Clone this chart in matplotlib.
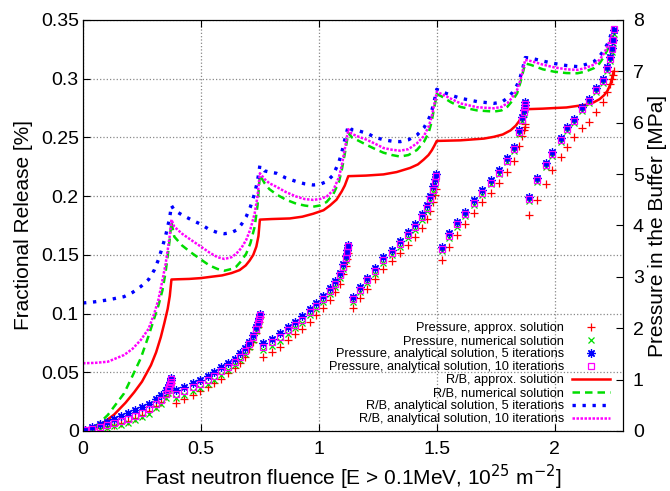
import matplotlib
matplotlib.use("Agg")
import matplotlib.pyplot as plt

plt.rcParams['font.family'] = ['Liberation Sans', 'DejaVu Sans']

# R/B curves (left axis, %)
rb_x = [0, 0.05, 0.105, 0.174, 0.21, 0.245, 0.278, 0.302, 0.32, 0.337, 0.35, 0.359, 0.367, 0.375,
        0.387, 0.42, 0.458, 0.50, 0.536, 0.57, 0.60, 0.63, 0.65, 0.672, 0.692, 0.71, 0.728, 0.74, 0.75,
        0.77, 0.79, 0.82, 0.86, 0.905, 0.94, 0.976, 1.004, 1.033, 1.061, 1.085, 1.097, 1.11, 1.125,
        1.14, 1.17, 1.203, 1.24, 1.274, 1.31, 1.345, 1.38, 1.416, 1.445, 1.465, 1.478, 1.487, 1.494, 1.5,
        1.52, 1.56, 1.6, 1.671, 1.742, 1.775, 1.799, 1.82, 1.841, 1.855, 1.865, 1.875,
        1.9, 1.95, 1.997, 2.05, 2.096, 2.13, 2.167, 2.19, 2.21, 2.225, 2.238, 2.25]

rb_num = [0, 0.003, 0.0136, 0.032, 0.047, 0.062, 0.081, 0.096, 0.107, 0.12, 0.135, 0.149, 0.162, 0.178,
          0.1655, 0.158, 0.152, 0.146, 0.141, 0.138, 0.1365, 0.138, 0.140, 0.145, 0.151, 0.160, 0.174, 0.192, 0.218,
          0.211, 0.206, 0.2015, 0.197, 0.1935, 0.192, 0.191, 0.192, 0.195, 0.2015, 0.212, 0.222, 0.236, 0.254,
          0.250, 0.247, 0.2436, 0.240, 0.237, 0.235, 0.2337, 0.235, 0.2393, 0.246, 0.2536, 0.263, 0.273, 0.280, 0.287,
          0.285, 0.280, 0.276, 0.273, 0.272, 0.273, 0.276, 0.281, 0.2876, 0.297, 0.305, 0.313,
          0.3117, 0.308, 0.306, 0.3048, 0.3046, 0.306, 0.309, 0.313, 0.319, 0.325, 0.333, 0.340]

rb_an5 = [0.109, 0.110, 0.1116, 0.1144, 0.118, 0.123, 0.129, 0.137, 0.146, 0.157, 0.166, 0.174, 0.181, 0.192,
          0.188, 0.184, 0.180, 0.176, 0.1715, 0.169, 0.168, 0.169, 0.171, 0.176, 0.1825, 0.191, 0.2025, 0.213, 0.226,
          0.2215, 0.2205, 0.2195, 0.2155, 0.2124, 0.2105, 0.2095, 0.210, 0.2124, 0.218, 0.229, 0.237, 0.248, 0.260,
          0.2565, 0.2555, 0.2536, 0.250, 0.248, 0.2468, 0.2464, 0.248, 0.252, 0.258, 0.265, 0.272, 0.279, 0.285, 0.291,
          0.289, 0.286, 0.2834, 0.2805, 0.279, 0.280, 0.2834, 0.288, 0.2947, 0.302, 0.309, 0.318,
          0.3175, 0.315, 0.313, 0.3112, 0.3103, 0.312, 0.3146, 0.319, 0.3245, 0.330, 0.337, 0.344]

rb_an10 = [0.0577, 0.058, 0.059, 0.0647, 0.070, 0.0775, 0.087, 0.100, 0.112, 0.1286, 0.142, 0.154, 0.165, 0.18,
           0.174, 0.168, 0.1627, 0.157, 0.152, 0.148, 0.1465, 0.148, 0.151, 0.156, 0.1627, 0.172, 0.1854, 0.200, 0.2195,
           0.2145, 0.211, 0.208, 0.2035, 0.1996, 0.1975, 0.1968, 0.1975, 0.1996, 0.205, 0.216, 0.226, 0.240, 0.257,
           0.253, 0.2505, 0.248, 0.2445, 0.241, 0.2395, 0.2387, 0.240, 0.245, 0.251, 0.259, 0.267, 0.276, 0.282, 0.289,
           0.287, 0.283, 0.279, 0.2757, 0.2748, 0.276, 0.279, 0.284, 0.2905, 0.299, 0.307, 0.316,
           0.315, 0.312, 0.3097, 0.308, 0.3075, 0.309, 0.312, 0.316, 0.3217, 0.328, 0.335, 0.342]

red_x = [0, 0.03, 0.08, 0.132, 0.18, 0.217, 0.25, 0.288, 0.31, 0.33, 0.345, 0.359, 0.368, 0.375,
         0.40, 0.45, 0.50, 0.55, 0.59, 0.63, 0.664, 0.69, 0.706, 0.722, 0.735, 0.744, 0.75,
         0.80, 0.877, 0.93, 0.976, 1.02, 1.047, 1.075, 1.097, 1.11, 1.125,
         1.2, 1.274, 1.33, 1.387, 1.42, 1.444, 1.465, 1.479, 1.49, 1.5,
         1.6, 1.70, 1.742, 1.78, 1.813, 1.835, 1.848, 1.862, 1.875,
         1.95, 1.997, 2.05, 2.096, 2.14, 2.167, 2.19, 2.21, 2.225, 2.238, 2.245, 2.25]
rb_approx = [0, 0.002, 0.006, 0.014, 0.024, 0.033, 0.042, 0.056, 0.067, 0.080, 0.092, 0.104, 0.115, 0.129,
             0.1292, 0.1295, 0.1302, 0.1315, 0.1325, 0.1345, 0.137, 0.141, 0.145, 0.150, 0.157, 0.166, 0.180,
             0.1805, 0.181, 0.1825, 0.185, 0.188, 0.192, 0.197, 0.204, 0.209, 0.217,
             0.2175, 0.2185, 0.2205, 0.224, 0.227, 0.231, 0.235, 0.239, 0.243, 0.247,
             0.2475, 0.249, 0.2505, 0.2525, 0.256, 0.26, 0.2635, 0.268, 0.274,
             0.2745, 0.275, 0.2755, 0.2768, 0.278, 0.280, 0.2825, 0.286, 0.290, 0.296, 0.302, 0.306]

# Pressure points (right axis, MPa)
p_x = [0.01, 0.04, 0.07, 0.10, 0.13, 0.16, 0.19, 0.22, 0.25, 0.28, 0.31, 0.33, 0.35, 0.36, 0.365, 0.37, 0.373, 0.375,
       0.394, 0.43, 0.465, 0.494, 0.529, 0.557, 0.586, 0.614, 0.643, 0.664, 0.685, 0.706, 0.72, 0.735, 0.742, 0.746, 0.749,
       0.765, 0.80, 0.834, 0.869, 0.90, 0.93, 0.962, 0.99, 1.018, 1.047, 1.068, 1.089, 1.104, 1.114, 1.12, 1.125,
       1.146, 1.174, 1.205, 1.238, 1.274, 1.309, 1.345, 1.38, 1.409, 1.437, 1.458, 1.472, 1.486, 1.494, 1.498,
       1.522, 1.55, 1.585, 1.621, 1.656, 1.692, 1.728, 1.763, 1.799, 1.827, 1.848, 1.862, 1.869, 1.873, 1.875,
       1.891, 1.926, 1.962, 1.99, 2.026, 2.054, 2.082, 2.118, 2.146, 2.174, 2.203, 2.224, 2.236, 2.243, 2.247, 2.25]

p_approx = [0.01, 0.03, 0.06, 0.09, 0.12, 0.16, 0.20, 0.25, 0.31, 0.38, 0.48, 0.56, 0.68, 0.77, 0.82, 0.89, 0.94, 0.99,
            0.55, 0.62, 0.70, 0.77, 0.85, 0.93, 1.02, 1.12, 1.22, 1.33, 1.45, 1.59, 1.73, 1.91, 2.03, 2.12, 2.21,
            1.45, 1.54, 1.64, 1.77, 1.88, 1.99, 2.13, 2.26, 2.40, 2.55, 2.70, 2.87, 3.05, 3.21, 3.35, 3.46,
            2.39, 2.58, 2.77, 2.96, 3.16, 3.31, 3.47, 3.63, 3.78, 3.96, 4.13, 4.29, 4.46, 4.60, 4.72,
            3.33, 3.59, 3.82, 4.02, 4.25, 4.45, 4.63, 4.83, 5.05, 5.25, 5.55, 5.75, 5.85, 5.92, 5.97,
            4.20, 4.50, 4.80, 5.08, 5.34, 5.53, 5.73, 5.89, 6.02, 6.21, 6.41, 6.60, 6.75, 6.85, 6.93, 7.00]

p_num = [0.0, 0.02, 0.04, 0.06, 0.09, 0.12, 0.16, 0.21, 0.27, 0.34, 0.44, 0.52, 0.65, 0.74, 0.80, 0.87, 0.93, 0.99,
         0.64, 0.70, 0.78, 0.84, 0.92, 1.00, 1.09, 1.18, 1.28, 1.39, 1.50, 1.64, 1.77, 1.95, 2.06, 2.15, 2.24,
         1.57, 1.66, 1.76, 1.89, 2.00, 2.11, 2.25, 2.37, 2.51, 2.66, 2.81, 2.98, 3.16, 3.32, 3.46, 3.57,
         2.51, 2.70, 2.88, 3.06, 3.27, 3.42, 3.59, 3.76, 3.92, 4.11, 4.29, 4.47, 4.65, 4.80, 4.93,
         3.50, 3.75, 3.97, 4.18, 4.40, 4.60, 4.80, 5.00, 5.23, 5.45, 5.78, 6.03, 6.17, 6.27, 6.34,
         4.48, 4.84, 5.13, 5.35, 5.62, 5.84, 6.00, 6.23, 6.39, 6.59, 6.78, 7.01, 7.20, 7.38, 7.55, 7.72]

p_an5 = [0.02, 0.07, 0.13, 0.17, 0.23, 0.29, 0.35, 0.40, 0.46, 0.53, 0.62, 0.70, 0.80, 0.86, 0.90, 0.95, 0.99, 1.03,
         0.80, 0.85, 0.93, 0.99, 1.07, 1.15, 1.24, 1.32, 1.41, 1.51, 1.61, 1.74, 1.87, 2.03, 2.13, 2.20, 2.28,
         1.71, 1.80, 1.90, 2.03, 2.13, 2.24, 2.38, 2.50, 2.63, 2.78, 2.92, 3.08, 3.25, 3.40, 3.52, 3.62,
         2.61, 2.81, 2.98, 3.17, 3.38, 3.53, 3.70, 3.87, 4.03, 4.22, 4.40, 4.58, 4.76, 4.90, 5.01,
         3.59, 3.85, 4.07, 4.27, 4.49, 4.69, 4.88, 5.08, 5.31, 5.53, 5.86, 6.11, 6.25, 6.34, 6.40,
         4.56, 4.92, 5.21, 5.43, 5.70, 5.92, 6.08, 6.31, 6.47, 6.67, 6.86, 7.09, 7.28, 7.45, 7.62, 7.80]

p_an10 = [0.01, 0.04, 0.08, 0.11, 0.15, 0.19, 0.24, 0.29, 0.35, 0.42, 0.52, 0.60, 0.72, 0.80, 0.85, 0.91, 0.96, 1.01,
          0.72, 0.77, 0.85, 0.91, 0.99, 1.07, 1.16, 1.25, 1.35, 1.45, 1.56, 1.69, 1.82, 1.99, 2.10, 2.18, 2.26,
          1.64, 1.73, 1.83, 1.96, 2.06, 2.17, 2.31, 2.43, 2.57, 2.72, 2.86, 3.03, 3.20, 3.36, 3.49, 3.60,
          2.56, 2.75, 2.93, 3.11, 3.32, 3.47, 3.64, 3.81, 3.97, 4.16, 4.34, 4.52, 4.70, 4.85, 4.97,
          3.55, 3.80, 4.02, 4.22, 4.44, 4.64, 4.83, 5.03, 5.26, 5.48, 5.81, 6.06, 6.20, 6.30, 6.37,
          4.52, 4.88, 5.17, 5.39, 5.66, 5.88, 6.04, 6.27, 6.43, 6.63, 6.82, 7.05, 7.25, 7.43, 7.62, 7.83]

fig = plt.figure(figsize=(6.7, 4.91), dpi=100)
ax = fig.add_axes([0.1239, 0.1222, 0.8060, 0.8371])
ax2 = ax.twinx()

# pressure markers on right axis
h1, = ax2.plot(p_x, p_approx, '+', color='red', ms=6, mew=0.9, ls='none')
h2, = ax2.plot(p_x, p_num, 'x', color='#00dd00', ms=5, mew=0.9, ls='none')
h3, = ax2.plot(p_x, p_an5, marker=(8, 2, 0), color='blue', ms=6, mew=0.9, ls='none')
h4, = ax2.plot(p_x, p_an10, 's', color='magenta', mfc='none', ms=5, mew=0.9, ls='none')

# R/B lines on left axis
l1, = ax.plot(red_x, rb_approx, '-', color='red', lw=1.8)
l2, = ax.plot(rb_x, rb_num, '--', color='#00dd00', lw=1.8, dashes=(3, 2))
l3, = ax.plot(rb_x, rb_an5, ':', color='blue', lw=2.4, dashes=(1, 2))
l4, = ax.plot(rb_x, rb_an10, ':', color='magenta', lw=1.8, dashes=(1, 0.6))

ax.set_xlim(0, 2.29)
ax.set_ylim(0, 0.35)
ax2.set_ylim(0, 8)
ax.set_xticks([0, 0.5, 1, 1.5, 2])
ax.set_xticklabels(['0', '0.5', '1', '1.5', '2'])
ax.set_yticks([0, 0.05, 0.1, 0.15, 0.2, 0.25, 0.3, 0.35])
ax.set_yticklabels(['0', '0.05', '0.1', '0.15', '0.2', '0.25', '0.3', '0.35'])
ax2.set_yticks(range(0, 9))

ax.grid(True, color='#888888', ls=':', lw=0.9)
ax.tick_params(axis='x', direction='in', labelsize=14, top=True, length=5, pad=7)
ax.tick_params(axis='y', direction='in', labelsize=14, length=5, pad=3)
ax2.tick_params(direction='in', labelsize=14, length=5, pad=7)

ax.set_xlabel(r'Fast neutron fluence [E > 0.1MeV, 10$^{25}$ m$^{-2}$]', fontsize=15, labelpad=4)
ax.set_ylabel('Fractional Release [%]', fontsize=15, labelpad=6)
ax2.set_ylabel('Pressure in the Buffer [MPa]', fontsize=15, labelpad=3)

handles = [h1, h2, h3, h4, l1, l2, l3, l4]
labels = ['Pressure, approx. solution', 'Pressure, numerical solution',
          'Pressure, analytical solution, 5 iterations', 'Pressure, analytical solution, 10 iterations',
          'R/B, approx. solution', 'R/B, numerical solution',
          'R/B, analytical solution, 5 iterations', 'R/B, analytical solution, 10 iterations']
ax2.legend(handles, labels, loc='lower right', bbox_to_anchor=(0.99, -0.005), frameon=False,
           markerfirst=False, fontsize=9.2, handlelength=3.0, labelspacing=0.08,
           handletextpad=0.6, numpoints=1, borderaxespad=0.2)

fig.savefig('out.png', dpi=100)
